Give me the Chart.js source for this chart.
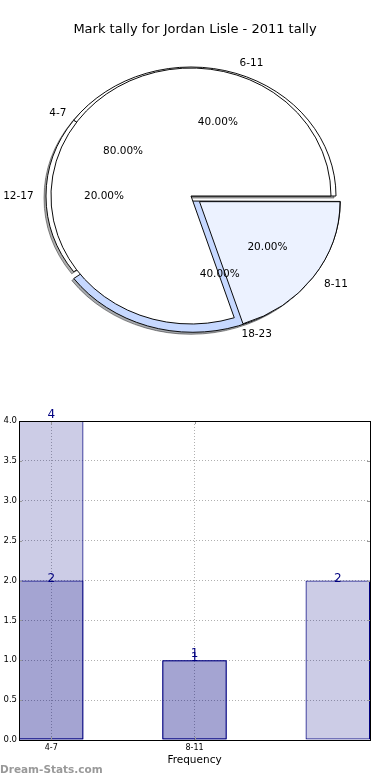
<!DOCTYPE html>
<html>
<head>
<meta charset="utf-8">
<script src="https://cdn.jsdelivr.net/npm/chart.js@4.4.0/dist/chart.umd.min.js"></script>
<style>
  html, body { margin: 0; padding: 0; background: #fff; }
  body { width: 390px; height: 780px; position: relative; overflow: hidden; }
  .layer { position: absolute; left: 0; }
  .pie { top: 0; width: 390px; height: 392px; }
  #barBox { top: 400px; width: 390px; height: 380px; }
</style>
</head>
<body>
<div class="layer pie"><canvas id="pie_back"></canvas></div>
<div class="layer pie"><canvas id="pie_front"></canvas></div>
<div class="layer" id="barBox"><canvas id="bars"></canvas></div>
<script>
// data
const titleText = "Mark tally for Jordan Lisle - 2011 tally";
const frontLabels = ["4-7", "8-11"];
const frontValues = [4, 1];
const backLabels = ["6-11", "12-17", "18-23"];
const backValues = [2, 1, 2];
const barTickLabels = ["4-7", "8-11"];
const barSeriesA = [4, 1, 0];
const barSeriesB = [2, 1, 2];
const xTitle = "Frequency";
const watermark = "Dream-Stats.com";

const FONT = '"DejaVu Sans", "Liberation Sans", sans-serif';
const pieLayers = []; // every pie drawn so far, bottom first

// squash the pie into an ellipse, optional drop shadow underneath
function ellipsePlugin(k, shadow) {
  return {
    id: "ellipse",
    beforeDatasetsDraw(chart) {
      const ctx = chart.ctx;
      const arcs = chart.getDatasetMeta(0).data;
      const cx = arcs[0].x, cy = arcs[0].y;
      if (shadow) {
        ctx.save();
        ctx.translate(-2, 2);
        ctx.translate(cx, cy);
        ctx.scale(1, k);
        ctx.translate(-cx, -cy);
        ctx.filter = "brightness(0.3) opacity(0.45)";
        arcs.forEach((a) => a.draw(ctx));
        ctx.restore();
      }
      ctx.save();
      ctx.translate(cx, cy);
      ctx.scale(1, k);
      ctx.translate(-cx, -cy);
    },
    afterDatasetsDraw(chart) {
      chart.ctx.restore();
    },
  };
}

// labels + autopct, matplotlib style
function drawPieText(ctx, chart) {
  const meta = chart.getDatasetMeta(0);
  const values = chart.data.datasets[0].data;
  const labels = chart.data.labels;
  const total = values.reduce((a, b) => a + b, 0);
  const k = chart.$k;
  meta.data.forEach((a, i) => {
    const mid = (a.startAngle + a.endAngle) / 2;
    const shift = (a.options.offset || 0) / 4;
    const c = Math.cos(mid), s = Math.sin(mid);
    let d = shift + 0.6 * a.outerRadius;
    ctx.textAlign = "center";
    ctx.fillText((values[i] / total * 100).toFixed(2) + "%", a.x + c * d, a.y + s * d * k);
    d = shift + 1.1 * chart.$labelR;
    ctx.textAlign = c > 0 ? "left" : "right";
    ctx.fillText(labels[i], a.x + c * d, a.y + s * d * k);
  });
}

// only on the top canvas, so no wedge covers any text
const pieText = {
  id: "pieText",
  afterDraw(chart) {
    const ctx = chart.ctx;
    ctx.save();
    ctx.font = "10.5px " + FONT;
    ctx.fillStyle = "#000";
    ctx.textBaseline = "middle";
    pieLayers.forEach((c) => {
      if (c.$k) drawPieText(ctx, c);
    });
    ctx.font = "13px " + FONT;
    ctx.textAlign = "center";
    ctx.fillText(titleText, 195, 30);
    ctx.restore();
  },
};

function makePie(id, labels, values, colors, offsets, rx, ry, labelR, shadow, top) {
  const k = ry / rx;
  const chart = new Chart(document.getElementById(id), {
    type: "pie",
    data: {
      labels: labels.slice().reverse(),
      datasets: [
        {
          data: values.slice().reverse(),
          backgroundColor: colors.slice().reverse(),
          borderColor: "#000",
          borderWidth: 1,
          borderJoinStyle: "miter",
          offset: offsets.slice().reverse(),
        },
      ],
    },
    options: {
      responsive: true,
      maintainAspectRatio: false,
      animation: false,
      events: [],
      rotation: 90,
      radius: rx,
      layout: { padding: { right: 8 } },
      plugins: {
        legend: { display: false },
        tooltip: { enabled: false },
      },
    },
    plugins: top ? [ellipsePlugin(k, shadow), pieText] : [ellipsePlugin(k, shadow)],
  });
  chart.$k = k;
  chart.$labelR = labelR;
  pieLayers.push(chart);
  return chart;
}

makePie("pie_back", backLabels, backValues,
  ["#ffffff", "#ffffff", "#c6d8ff"], [0, 0, 24], 145, 129, 143, true, false);
const frontPie = makePie("pie_front", frontLabels, frontValues,
  ["#ffffff", "#ecf2ff"], [0, 42], 140, 128, 140, false, true);
frontPie.draw();

// bar chart: frame, inward ticks, value labels, watermark
const barDecor = {
  id: "barDecor",
  afterDatasetsDraw(chart) {
    const ctx = chart.ctx;
    const a = chart.chartArea;
    const xs = chart.scales.x, ys = chart.scales.y;
    ctx.save();
    ctx.strokeStyle = "#999";
    ctx.lineWidth = 1;
    ctx.beginPath();
    ys.ticks.forEach((t) => {
      const y = Math.round(ys.getPixelForValue(t.value)) + 0.5;
      ctx.moveTo(a.left, y); ctx.lineTo(a.left + 3, y);
      ctx.moveTo(a.right, y); ctx.lineTo(a.right - 3, y);
    });
    xs.ticks.forEach((t) => {
      const x = Math.round(xs.getPixelForValue(t.value)) + 0.5;
      ctx.moveTo(x, a.bottom); ctx.lineTo(x, a.bottom - 3);
      ctx.moveTo(x, a.top); ctx.lineTo(x, a.top + 3);
    });
    ctx.stroke();
    ctx.strokeStyle = "#000";
    ctx.strokeRect(Math.round(a.left) + 0.5, Math.round(a.top) + 0.5,
      Math.round(a.right - a.left), Math.round(a.bottom - a.top));

    ctx.font = "12px " + FONT;
    ctx.fillStyle = "#000080";
    ctx.textAlign = "center";
    ctx.textBaseline = "alphabetic";
    const shifts = [-3, 1];
    chart.data.datasets.forEach((ds, di) => {
      chart.getDatasetMeta(di).data.forEach((bar, i) => {
        const v = ds.data[i].y;
        if (!v) return;
        ctx.fillText(String(v), bar.x, bar.y + shifts[di]);
      });
    });
    ctx.restore();
  },
  afterDraw(chart) {
    const ctx = chart.ctx;
    ctx.save();
    ctx.font = "bold 10.5px " + FONT;
    ctx.fillStyle = "#999";
    ctx.textAlign = "left";
    ctx.textBaseline = "middle";
    ctx.fillText(watermark, 0, 370);
    ctx.restore();
  },
};

const gridColor = "#b0b0b0";

new Chart(document.getElementById("bars"), {
  type: "bar",
  data: {
    datasets: [
      {
        data: barSeriesA.map((v, i) => ({ x: i, y: v })),
        backgroundColor: "rgba(0, 0, 128, 0.2)",
        borderColor: "#000080",
        borderWidth: 1,
        borderSkipped: false,
      },
      {
        data: barSeriesB.map((v, i) => ({ x: i, y: v })),
        backgroundColor: "rgba(0, 0, 128, 0.2)",
        borderColor: "#000080",
        borderWidth: 1,
        borderSkipped: false,
      },
    ],
  },
  options: {
    responsive: true,
    maintainAspectRatio: false,
    animation: false,
    events: [],
    layout: { padding: { top: 21, right: 20, left: 0, bottom: 0 } },
    datasets: {
      bar: { grouped: false, categoryPercentage: 0.45, barPercentage: 1 },
    },
    plugins: {
      legend: { display: false },
      tooltip: { enabled: false },
    },
    scales: {
      x: {
        type: "linear",
        offset: false,
        bounds: "data",
        min: -0.225,
        max: 2.225,
        afterBuildTicks: (s) => {
          s.ticks = barTickLabels.map((t, i) => ({ value: i }));
        },
        afterFit: (s) => {
          s.height = 40;
        },
        ticks: {
          callback: (v) => barTickLabels[v],
          font: { family: FONT, size: 8 },
          color: "#000",
          padding: 3,
          maxRotation: 0,
          autoSkip: false,
        },
        grid: { color: gridColor, drawTicks: false, offset: false },
        border: { display: false, dash: [1, 2] },
        title: {
          display: true,
          text: xTitle,
          font: { family: FONT, size: 10.5 },
          color: "#000",
          padding: { top: 0, bottom: 13 },
        },
      },
      y: {
        min: 0,
        max: 4,
        afterFit: (s) => {
          s.width = 19;
        },
        ticks: {
          stepSize: 0.5,
          callback: (v) => v.toFixed(1),
          font: { family: FONT, size: 8.5 },
          color: "#000",
          padding: 2,
        },
        grid: { color: gridColor, drawTicks: false },
        border: { display: false, dash: [1, 2] },
      },
    },
  },
  plugins: [barDecor],
});
</script>
</body>
</html>
